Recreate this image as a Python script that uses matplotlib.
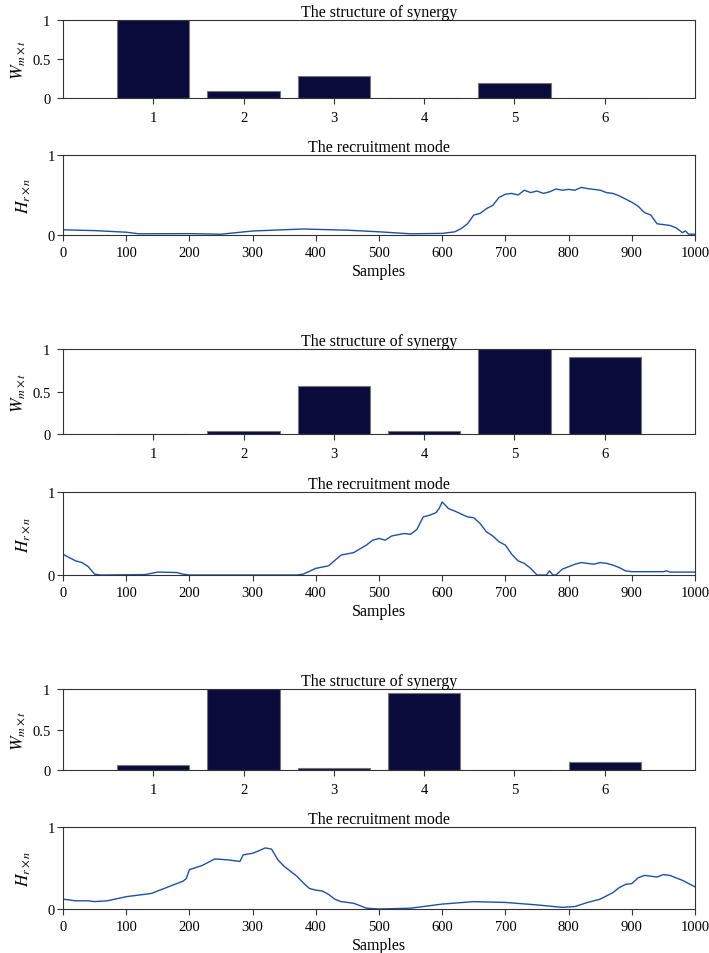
import matplotlib
matplotlib.use("Agg")
import matplotlib.pyplot as plt

plt.rcParams['font.family'] = ['Liberation Serif', 'DejaVu Serif']
plt.rcParams['mathtext.fontset'] = 'stix'
plt.rcParams['font.size'] = 10.5

muscles = [1, 2, 3, 4, 5, 6]
w1 = [1.0, 0.09, 0.28, 0.0, 0.19, 0.0]
w2 = [0.0, 0.03, 0.57, 0.03, 1.0, 0.91]
w3 = [0.06, 1.0, 0.03, 0.95, 0.0, 0.10]

h1_x = [0, 50, 100, 120, 200, 250, 300, 380, 450, 500, 550, 600, 620, 630, 640, 650, 660, 670, 680,
        690, 700, 710, 720, 730, 740, 750, 760, 770, 780, 790, 800, 810, 820, 830, 840, 850, 860,
        870, 880, 890, 900, 910, 920, 930, 940, 950, 960, 970, 980, 985, 990, 1000]
h1_y = [0.065, 0.055, 0.035, 0.015, 0.017, 0.01, 0.05, 0.075, 0.06, 0.04, 0.015, 0.02, 0.04, 0.08,
        0.14, 0.25, 0.27, 0.33, 0.37, 0.47, 0.51, 0.52, 0.50, 0.56, 0.53, 0.55, 0.52, 0.54, 0.575,
        0.56, 0.57, 0.56, 0.595, 0.58, 0.57, 0.56, 0.53, 0.52, 0.49, 0.45, 0.41, 0.36, 0.28, 0.25,
        0.14, 0.13, 0.12, 0.09, 0.03, 0.05, 0.01, 0.01]

h2_x = [0, 10, 20, 30, 40, 50, 60, 130, 140, 150, 180, 190, 200, 370, 380, 400, 420, 440, 460, 480,
        490, 500, 510, 520, 540, 550, 560, 570, 580, 590, 595, 600, 610, 620, 640, 650, 660, 670,
        680, 690, 700, 710, 720, 730, 740, 750, 765, 770, 775, 780, 790, 800, 810, 820, 840, 850,
        860, 870, 880, 890, 900, 950, 955, 960, 1000]
h2_y = [0.25, 0.21, 0.17, 0.15, 0.10, 0.01, 0.0, 0.005, 0.02, 0.035, 0.03, 0.01, 0.0, 0.0, 0.01,
        0.08, 0.11, 0.24, 0.27, 0.36, 0.42, 0.44, 0.42, 0.47, 0.50, 0.49, 0.55, 0.70, 0.72, 0.75,
        0.80, 0.88, 0.80, 0.77, 0.70, 0.69, 0.62, 0.52, 0.47, 0.40, 0.36, 0.25, 0.17, 0.14, 0.08,
        0.0, 0.0, 0.05, 0.0, 0.0, 0.07, 0.10, 0.13, 0.15, 0.13, 0.15, 0.14, 0.12, 0.09, 0.05, 0.04,
        0.04, 0.05, 0.035, 0.035]

h3_x = [0, 20, 40, 50, 70, 100, 120, 140, 150, 160, 180, 190, 195, 200, 220, 230, 240, 260, 270,
        280, 285, 300, 310, 320, 330, 340, 350, 360, 370, 380, 390, 400, 410, 420, 430, 440, 460,
        470, 480, 500, 550, 600, 650, 700, 750, 790, 810, 830, 850, 870, 880, 890, 900, 910, 920,
        940, 950, 960, 980, 990, 1000]
h3_y = [0.12, 0.10, 0.10, 0.09, 0.10, 0.15, 0.17, 0.19, 0.22, 0.25, 0.31, 0.34, 0.37, 0.48, 0.53,
        0.57, 0.61, 0.60, 0.59, 0.58, 0.66, 0.68, 0.71, 0.745, 0.73, 0.60, 0.52, 0.46, 0.40, 0.32,
        0.25, 0.23, 0.22, 0.18, 0.12, 0.09, 0.07, 0.04, 0.01, 0.0, 0.01, 0.06, 0.09, 0.08, 0.05,
        0.02, 0.03, 0.08, 0.12, 0.20, 0.26, 0.30, 0.31, 0.38, 0.41, 0.39, 0.42, 0.41, 0.35, 0.31,
        0.27]

bar_color = '#0b0b3b'
line_color = '#1f4fa3'
spine_color = '#333333'

W = 709
H = 954
fig = plt.figure(figsize=(W / 100, H / 100), dpi=100)

left = 63 / W
width = (695 - 63) / W

def box(top, bottom):
    return [left, 1 - bottom / H, width, (bottom - top) / H]

bar_boxes = [box(21, 99), box(350, 435), box(690, 771)]
line_boxes = [box(156, 236), box(493, 576), box(828, 910)]

for wb, hx, hy, bb, lb in zip([w1, w2, w3], [h1_x, h2_x, h3_x], [h1_y, h2_y, h3_y],
                              bar_boxes, line_boxes):
    ax = fig.add_axes(bb)
    ax.bar(muscles, wb, width=0.8, color=bar_color, edgecolor='#777777', linewidth=0.8)
    ax.set_xlim(0, 7)
    ax.set_ylim(0, 1)
    ax.set_xticks(muscles)
    ax.set_yticks([0, 0.5, 1])
    ax.set_yticklabels(['0', '0.5', '1'])
    ax.set_title('The structure of synergy', fontsize=11.5, pad=2)
    ax.set_ylabel(r'$W_{m\times t}$', fontsize=12.5, labelpad=3)
    for s in ax.spines.values():
        s.set_color(spine_color)
        s.set_linewidth(0.8)
    ax.tick_params(direction='out', length=4, width=0.8, color=spine_color, pad=5)

    ax2 = fig.add_axes(lb)
    ax2.plot(hx, hy, color=line_color, linewidth=1.0)
    ax2.set_xlim(0, 1000)
    ax2.set_ylim(0, 1)
    ax2.set_xticks(range(0, 1001, 100))
    ax2.set_yticks([0, 1])
    ax2.set_title('The recruitment mode', fontsize=11.5, pad=2)
    ax2.set_ylabel(r'$H_{r\times n}$', fontsize=12.5, labelpad=10)
    ax2.set_xlabel('Samples', fontsize=11.5, labelpad=3)
    for s in ax2.spines.values():
        s.set_color(spine_color)
        s.set_linewidth(0.8)
    ax2.tick_params(axis='x', direction='out', length=4, width=0.8, color=spine_color, pad=4)
    ax2.tick_params(axis='y', direction='out', length=4, width=0.8, color=spine_color, pad=2)

fig.savefig('out.png', dpi=100)
